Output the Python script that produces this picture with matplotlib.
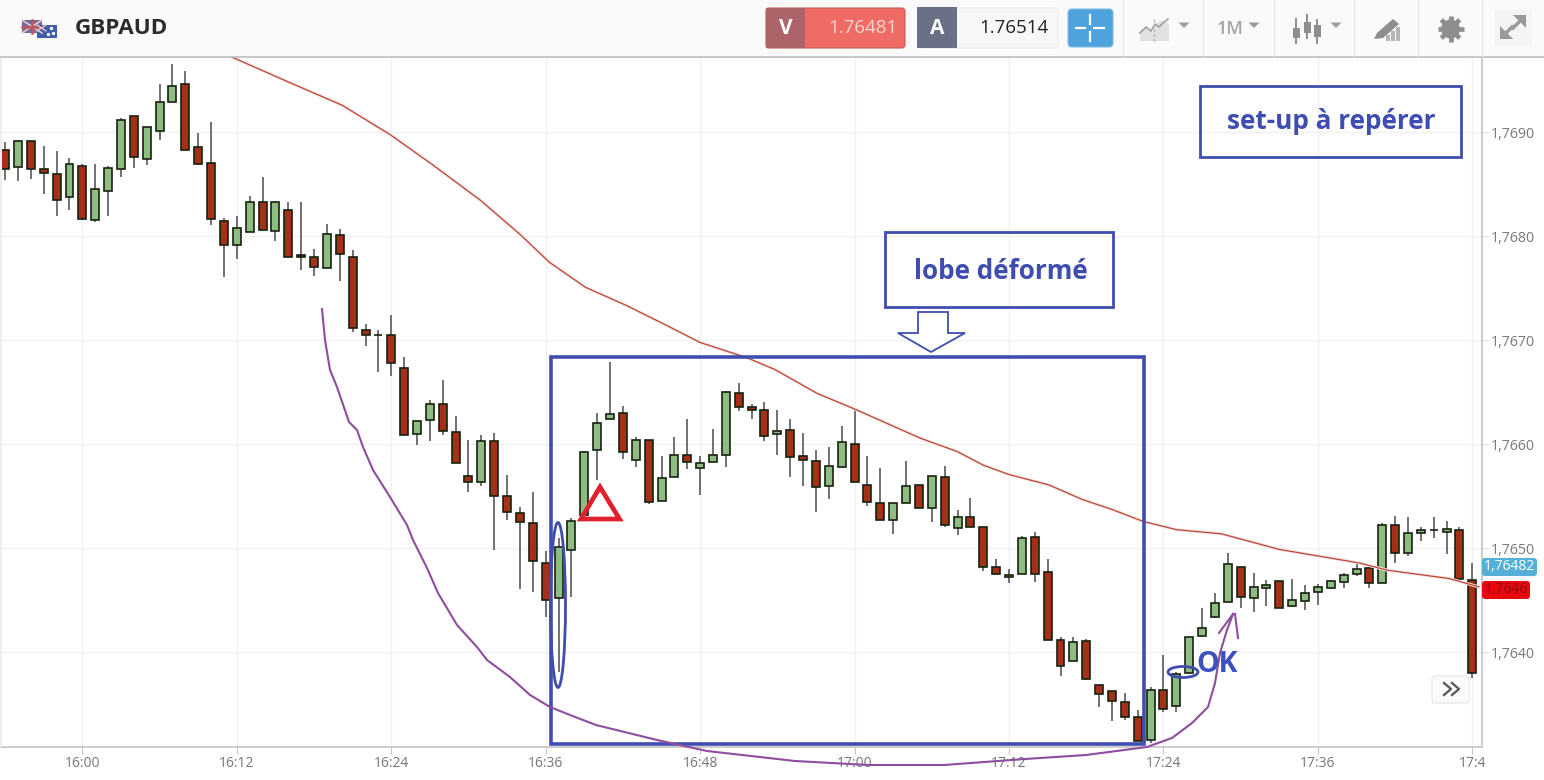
import numpy as np
import matplotlib
matplotlib.use("Agg")
import matplotlib.pyplot as plt
from matplotlib.patches import Rectangle, FancyBboxPatch, Polygon, Ellipse, Circle
from matplotlib.ticker import FuncFormatter

plt.rcParams['font.family'] = ['Open Sans', 'DejaVu Sans']

# ---- data: prices are 1.76 + points / 100000, one candle per minute ----
price_base = 1.76
first_minute = -6   # minutes after 16:00
open_pts = [883,867,892,865,860,838,868,816,844,865,916,874,901,929,947,886,871,815,792,804,
            833,805,825,782,780,770,801,780,710,705,705,673,610,623,639,612,570,564,603,550,
            534,524,486,452,498,532,595,624,630,585,604,546,569,590,577,583,590,649,636,633,
            610,614,589,584,560,578,600,561,544,527,544,561,539,569,520,530,521,482,472,475,
            511,477,412,392,411,369,363,352,338,316,364,348,380,416,434,448,482,452,462,469,
            445,449,458,462,468,475,481,467,522,496,515,518,516,518,470]
high_pts = [891,893,892,887,882,875,870,870,868,914,916,905,947,966,959,899,910,818,820,839,
            857,833,833,833,788,812,807,787,716,710,724,684,622,643,662,627,604,609,611,571,
            540,554,497,510,529,594,630,679,637,607,604,589,607,624,589,615,651,659,639,641,
            633,624,611,595,597,618,634,589,577,544,584,561,570,579,537,548,521,490,480,512,
            516,490,415,415,413,369,363,361,345,367,397,381,415,443,457,496,482,476,470,469,
            471,465,466,470,476,486,482,524,531,530,521,530,526,521,486]
low_pts = [854,853,855,841,820,825,816,814,820,857,866,869,893,929,883,869,811,761,778,804,
           806,796,780,768,762,770,757,708,695,670,666,609,599,603,609,582,554,560,498,527,
           461,458,434,381,453,532,566,624,586,578,543,546,569,576,551,583,578,632,624,603,
           590,569,560,535,547,577,564,541,527,514,544,539,525,521,513,521,478,474,467,475,
           468,412,377,392,373,347,334,335,315,313,343,343,380,415,433,448,443,439,445,443,
           444,441,446,461,462,473,462,467,486,493,507,510,495,470,375]
close_pts = [865,892,865,861,835,870,817,846,866,912,876,905,929,945,883,870,817,792,808,833,
             806,833,780,780,771,802,783,712,705,705,678,609,622,639,613,582,564,603,550,535,
             525,488,450,501,526,593,621,629,593,604,545,568,590,583,582,590,650,636,633,608,
             613,588,585,559,579,602,564,545,527,544,560,539,570,522,530,521,482,475,474,510,
             475,412,387,410,374,360,353,338,315,364,346,379,415,423,447,485,453,463,465,443,
             450,457,463,469,474,480,467,522,496,515,518,518,519,471,380]

ma_minutes = [11.5,16.1,20.2,23.9,27.2,30.9,34,36.3,39.1,42.2,45.3,48,51.7,53.8,57.1,60,65.1,68,70,72,
              75.1,77.7,80.1,82.4,85,88.5,93,99.2,101.4,106.2,108.5]
ma_pts = [973,948,926,898,869,835,802,775,751,734,715,698,683,672,649,634,606,593,580,571,
          561,547,537,526,518,514,499,486,479,471,463]

x_tick_minutes = [0,12,24,36,48,60,72,84,96,108]
x_tick_labels = ['16:00','16:12','16:24','16:36','16:48','17:00','17:12','17:24','17:36','17:4']
y_ticks = [1.7640,1.7650,1.7660,1.7670,1.7680,1.7690]

# hand-drawn purple stroke, in picture pixels
stroke_x = [322,325,330,337,349,357,363,373,390,407,413,427,438,457,477,487,510,530,550,570,596,
            657,707,795,868,944,1025,1086,1147,1172,1192,1208,1215,1220,1227,1233]
stroke_y = [309,340,370,387,422,430,447,470,497,525,540,568,593,625,647,660,677,695,707,715,725,
            740,751,761,765,765,759,755,747,738,723,707,683,653,630,614]

W, H = 1544, 780
RED, GREEN, EDGE, WICK = '#a5301a', '#8fbc83', '#16220f', '#4a4a4a'
BLUE, PURPLE = '#3f4db0', '#8e4d9e'

fig = plt.figure(figsize=(W/100, H/100), dpi=100, facecolor='white')
ax = fig.add_axes([0, 1-747/H, 1482/W, (747-57)/H])

minutes = np.arange(len(open_pts)) + first_minute
o = price_base + np.array(open_pts)/1e5
h = price_base + np.array(high_pts)/1e5
l = price_base + np.array(low_pts)/1e5
c = price_base + np.array(close_pts)/1e5
is_up = c >= o
colors = [GREEN if u else RED for u in is_up]

ax.vlines(minutes, l, h, color=WICK, lw=1.1, zorder=2)
ax.bar(minutes, np.abs(c-o), bottom=np.minimum(o, c), width=0.62, color=colors,
       edgecolor=EDGE, linewidth=1.2, zorder=3)

ma = price_base + np.array(ma_pts)/1e5
ax.plot(ma_minutes, ma, color='#f8e3df', lw=2.2, zorder=4)
ax.plot(ma_minutes, ma, color='#b9473a', lw=0.9, zorder=5)

ax.set_xlim(-6.4, 108.75)
ax.set_ylim(1.76309, 1.769725)
ax.set_xticks(x_tick_minutes)
ax.set_xticklabels(x_tick_labels)
ax.set_yticks(y_ticks)
ax.yaxis.set_major_formatter(FuncFormatter(lambda v, p: f'{v:.4f}'.replace('.', ',')))
ax.yaxis.tick_right()
ax.tick_params(axis='x', length=5, color='#c4c4c4', labelsize=10, labelcolor='#777777', pad=1.5)
ax.tick_params(axis='y', length=5, color='#dddddd', labelsize=10.2, labelcolor='#777777', pad=1)
ax.grid(True, color='#f1f1f1', lw=1)
ax.set_axisbelow(True)
for s in ['top', 'left']:
    ax.spines[s].set_visible(False)
for s in ['bottom', 'right']:
    ax.spines[s].set_color('#c4c4c4')
    ax.spines[s].set_linewidth(1.2)

# ---- overlay in picture pixels: toolbar and hand annotations ----
ov = fig.add_axes([0, 0, 1, 1], zorder=10)
ov.set_xlim(0, W); ov.set_ylim(H, 0); ov.axis('off'); ov.patch.set_alpha(0)

ov.add_patch(Rectangle((0, 0), W, 56, fc='#fafafa', ec='none'))
ov.plot([0, W], [56.5, 56.5], color='#bdbdbd', lw=1.2)
ov.add_patch(Rectangle((0, 57), 2, 690, fc='#eeeeee', ec='none'))
for sx in [1123, 1203, 1274, 1354, 1418, 1482]:
    ov.plot([sx, sx], [0, 56], color='#e6e6e6', lw=1)

# flags
ov.add_patch(Rectangle((22, 20), 20, 13, fc='#6d6c9c', ec='none'))
ov.plot([22, 42], [20, 33], color='#e8c8c8', lw=1.2)
ov.plot([22, 42], [33, 20], color='#e8c8c8', lw=1.2)
ov.plot([32, 32], [20, 33], color='#c0545f', lw=1.8)
ov.plot([22, 42], [26.5, 26.5], color='#c0545f', lw=1.8)
ov.add_patch(Rectangle((37, 25), 20, 13, fc='#3f5da8', ec='none'))
ov.plot([37, 46], [25, 31], color='#e8c8c8', lw=1)
ov.plot([37, 46], [31, 25], color='#e8c8c8', lw=1)
ov.scatter([51, 48, 53], [28, 34, 33], s=2, color='white')
ov.text(75, 28.5, 'GBPAUD', fontsize=16.2, fontweight='bold', color='#2b2b2b', va='center', ha='left')

# sell / buy boxes
ov.add_patch(FancyBboxPatch((766, 8), 139, 40, boxstyle='round,pad=0,rounding_size=3', fc='#ef6b66', ec='#c75a56', lw=0.8))
ov.add_patch(Rectangle((766, 8), 39, 40, fc='#ad6468', ec='none'))
ov.text(785.5, 28.5, 'V', color='white', fontsize=15, fontweight='bold', ha='center', va='center')
ov.text(898, 28, '1.76481', color='#f9d4d0', fontsize=13.5, ha='right', va='center')
ov.add_patch(FancyBboxPatch((918, 8), 140, 40, boxstyle='round,pad=0,rounding_size=3', fc='#f7f7f7', ec='#ececec', lw=0.8))
ov.add_patch(Rectangle((917, 7), 40, 41, fc='#6a7086', ec='none'))
ov.text(937, 28.5, 'A', color='white', fontsize=15, fontweight='bold', ha='center', va='center')
ov.text(1049, 28, '1.76514', color='#222222', fontsize=13.5, ha='right', va='center')

# crosshair button
ov.add_patch(FancyBboxPatch((1068, 9), 45, 38, boxstyle='round,pad=0,rounding_size=4', fc='#4ea3dc', ec='#7fbde6', lw=0.8))
ov.plot([1076, 1085], [28, 28], color='white', lw=1.6)
ov.plot([1094, 1104], [28, 28], color='white', lw=1.6)
ov.plot([1090, 1090], [15, 24], color='white', lw=1.6)
ov.plot([1090, 1090], [32, 41], color='white', lw=1.6)

# toolbar icons
ov.add_patch(Polygon([(1140, 41), (1140, 31), (1147, 27), (1153, 32), (1154, 25), (1162, 20), (1169, 24), (1169, 41)], fc='#e2e2e2', ec='none'))
ov.plot([1140, 1146, 1151, 1155, 1159, 1163, 1168], [33, 27, 31, 24, 27, 23, 19], color='#a0a0a0', lw=1.2)
ov.plot([1154, 1154], [19, 42], color='#b5b5b5', lw=1, ls=(0, (2, 1.5)))
for tx in [1184, 1254, 1336]:
    ov.add_patch(Polygon([(tx-5.5, 22.5), (tx+5.5, 22.5), (tx, 28)], fc='#9c9c9c', ec='none'))
ov.text(1217, 29, '1M', color='#a6a6a6', fontsize=13, fontweight='semibold', ha='left', va='center')
for cx, t, b, ht, lb in [(1296, 28, 38, 19, 43), (1307, 22, 33, 15, 38), (1317, 25, 37, 20, 43)]:
    ov.plot([cx, cx], [ht, lb], color='#8e8e8e', lw=1.4)
    ov.add_patch(Rectangle((cx-3.5, t), 7, b-t, fc='#8e8e8e', ec='none'))
ov.add_patch(Polygon([(1374, 39), (1377, 33), (1393, 19), (1399, 24), (1383, 38)], fc='#8e8e8e', ec='none'))
for bx, bt in [(1386, 35), (1391, 31), (1396, 27)]:
    ov.add_patch(Rectangle((bx, bt), 3.5, 41-bt, fc='#b4b4b4', ec='none'))
# gear built from a ring and teeth
for ang in np.deg2rad(np.arange(0, 360, 45)):
    ov.plot([1450.5, 1450.5+13*np.cos(ang)], [29, 29+13*np.sin(ang)], color='#8e8e8e', lw=3.4, solid_capstyle='butt')
ov.add_patch(Circle((1450.5, 29), 9.5, fc='#8e8e8e', ec='none'))
ov.add_patch(Circle((1450.5, 29), 4.5, fc='#fafafa', ec='none'))
# expand icon
ov.add_patch(Rectangle((1494, 10), 38, 36, fc='#f4f4f4', ec='none'))
ov.add_patch(Polygon([(1526, 15), (1513, 15), (1526, 28)], fc='#9a9a9a', ec='none'))
ov.add_patch(Polygon([(1500, 39), (1513, 39), (1500, 26)], fc='#9a9a9a', ec='none'))
ov.plot([1521, 1513], [20, 28], color='#9a9a9a', lw=2.5)
ov.plot([1505, 1512], [34, 27], color='#9a9a9a', lw=2.5)

# price tags
ov.add_patch(FancyBboxPatch((1482, 558), 55, 18, boxstyle='round,pad=0,rounding_size=3', fc='#55b0d8', ec='none'))
ov.text(1509.5, 566.5, '1,76482', color='white', fontsize=10, ha='center', va='center')
ov.add_patch(FancyBboxPatch((1482, 581), 48, 18, boxstyle='round,pad=0,rounding_size=3', fc='#e8060f', ec='none'))
ov.text(1506, 589.5, '1,7646', color='#8b1010', fontsize=10, ha='center', va='center')

# scroll button
ov.add_patch(FancyBboxPatch((1432, 676), 37, 27, boxstyle='round,pad=0,rounding_size=3', fc='#fbfbfb', ec='#e6e6e6', lw=0.8))
ov.plot([1444, 1451, 1444], [683, 689, 695], color='#555555', lw=1.6)
ov.plot([1452, 1459, 1452], [683, 689, 695], color='#555555', lw=1.6)

# annotations
ov.add_patch(Rectangle((551, 357), 593, 387, fc='none', ec=BLUE, lw=2.6))
ov.add_patch(Rectangle((1200, 86), 261, 71, fc='none', ec=BLUE, lw=2))
ov.add_patch(Rectangle((885, 232), 228, 75, fc='none', ec=BLUE, lw=2))
ov.text(1331, 121.5, 'set-up à repérer', color=BLUE, fontsize=18.8, fontweight='bold', ha='center', va='center')
ov.text(1000.5, 271.5, 'lobe déformé', color=BLUE, fontsize=18.8, fontweight='bold', ha='center', va='center')
ov.add_patch(Polygon([(918, 312), (948, 312), (948, 333), (965, 333), (931, 352), (898, 333), (918, 333)], fc='white', ec=BLUE, lw=1.3))
ov.add_patch(Ellipse((558, 605), 15, 165, fc='none', ec=BLUE, lw=2))
ov.add_patch(Ellipse((1183, 672), 30, 11, fc='none', ec=BLUE, lw=2))
ov.text(1217, 664, 'OK', color='#3c50c0', fontsize=20.5, fontweight='bold', ha='center', va='center')
ov.plot(stroke_x, stroke_y, color=PURPLE, lw=1.5)
ov.plot([1219, 1233], [633, 614], color=PURPLE, lw=1.5)
ov.plot([1235, 1238], [614, 638], color=PURPLE, lw=1.5)
ov.add_patch(Polygon([(600, 487), (619.5, 519), (581, 519)], closed=True, fc='none', ec='#e0202a', lw=3.4, joinstyle='miter'))

fig.savefig('out.png', dpi=100, facecolor='white')
